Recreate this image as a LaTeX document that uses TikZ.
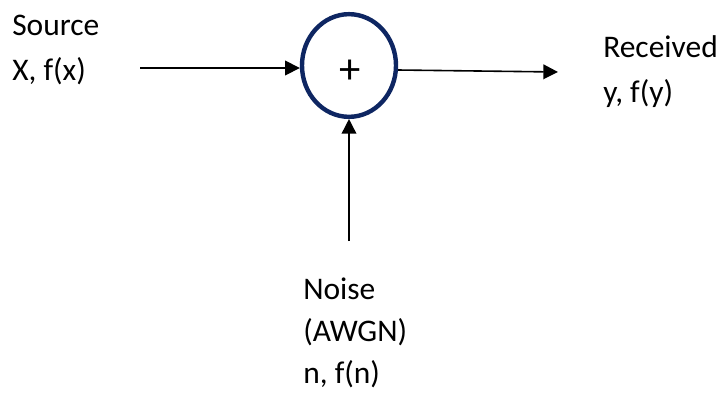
\documentclass[tikz,border=0pt]{standalone}
\usepackage{fontspec}
\setmainfont{Carlito}
\usetikzlibrary{arrows.meta,shapes.geometric}
\definecolor{sumblue}{RGB}{14,38,98}
\tikzset{
  lbl/.style={anchor=base west, inner sep=0pt, font=\fontsize{23.6}{28}\selectfont},
  sig/.style={line width=1.2pt, -{Triangle[length=11pt,width=11pt]}},
  summer/.style={ellipse, draw=sumblue, line width=3.3pt, minimum width=70.5pt,
    minimum height=77pt, inner sep=0pt}
}
\begin{document}
\begin{tikzpicture}[x=0.75pt, y=-0.75pt]
  \useasboundingbox (0,0) rectangle (721,394);
  % summing junction
  \node[summer] (sum) at (349,65.5) {};
  \node[inner sep=0pt, font=\fontsize{32}{32}\selectfont] (plus) at (350,72) {+};
  % source labels
  \node[lbl] (src1) at (12,35) {Source};
  \node[lbl] (src2) at (12,80) {X, f(x)};
  % received labels
  \node[lbl] (rcv1) at (603,57) {Received};
  \node[lbl] (rcv2) at (603,102) {y, f(y)};
  % noise labels
  \node[lbl] (nz1) at (303,299) {Noise};
  \node[lbl] (nz2) at (303,341) {(AWGN)};
  \node[lbl] (nz3) at (303,383) {n, f(n)};
  % signal endpoints
  \coordinate (in) at (140,68);
  \coordinate (out) at (558,72);
  \coordinate (nz) at (349,241);
  % connectors
  \draw[sig] (in) -- (sum.west |- in);
  \draw[sig] (sum.east |- 0,70) -- (out);
  \draw[sig] (nz) -- (sum.south);
\end{tikzpicture}
\end{document}
